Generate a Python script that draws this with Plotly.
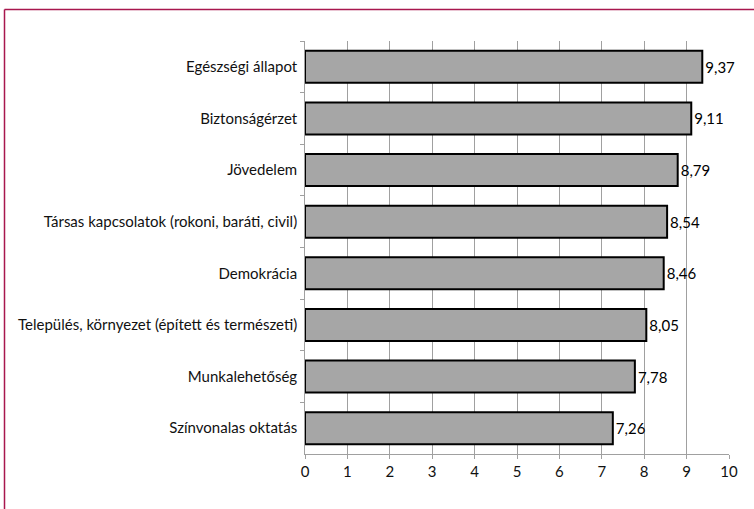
import plotly.graph_objects as go

categories = [
    "Egészségi állapot",
    "Biztonságérzet",
    "Jövedelem",
    "Társas kapcsolatok (rokoni, baráti, civil)",
    "Demokrácia",
    "Település, környezet (épített és természeti)",
    "Munkalehetőség",
    "Színvonalas oktatás",
]
values = [9.37, 9.11, 8.79, 8.54, 8.46, 8.05, 7.78, 7.26]
x_ticks = list(range(0, 11))

W, H = 754, 509
L, R, T, B = 305, 25, 41, 55
pw, ph = W - L - R, H - T - B

fig = go.Figure(go.Bar(
    x=values, y=categories, orientation="h",
    marker=dict(color="#A6A6A6", line=dict(color="black", width=2)),
    text=[f"{v:.2f}".replace(".", ",") for v in values],
    textposition="outside", cliponaxis=False,
    textfont=dict(color="black", size=15),
    width=0.62,
))

def px_x(p):
    return (p - L) / pw

def px_y(p):
    return (H - B - p) / ph

border = "#A8174E"
fig.add_shape(type="line", xref="paper", yref="paper",
              x0=px_x(4.5), x1=px_x(4.5), y0=px_y(520), y1=px_y(9.5),
              line=dict(color=border, width=1.5))
fig.add_shape(type="line", xref="paper", yref="paper",
              x0=px_x(4.5), x1=px_x(760), y0=px_y(9.5), y1=px_y(9.5),
              line=dict(color=border, width=1.5))

fig.update_layout(
    width=W, height=H, margin=dict(l=L, r=R, t=T, b=B),
    plot_bgcolor="white", paper_bgcolor="white",
    font=dict(family="Lato", size=15, color="#111111"),
    separators=", ",
    showlegend=False,
    xaxis=dict(range=[0, 10], tickvals=x_ticks, showgrid=True,
               gridcolor="#A0A0A0", gridwidth=1, zeroline=False,
               showline=True, linecolor="#A0A0A0", linewidth=1,
               ticks="outside", ticklen=4, tickcolor="#A0A0A0",
               tickfont=dict(size=15)),
    yaxis=dict(autorange="reversed", showline=True, linecolor="#A0A0A0",
               linewidth=1, ticks="outside", ticklen=4, tickcolor="#A0A0A0",
               tickson="boundaries", showgrid=False, ticksuffix=" ",
               tickfont=dict(size=15)),
)

fig.write_html("out.html", config={"displayModeBar": False},
               post_script="document.body.style.margin='0';")
